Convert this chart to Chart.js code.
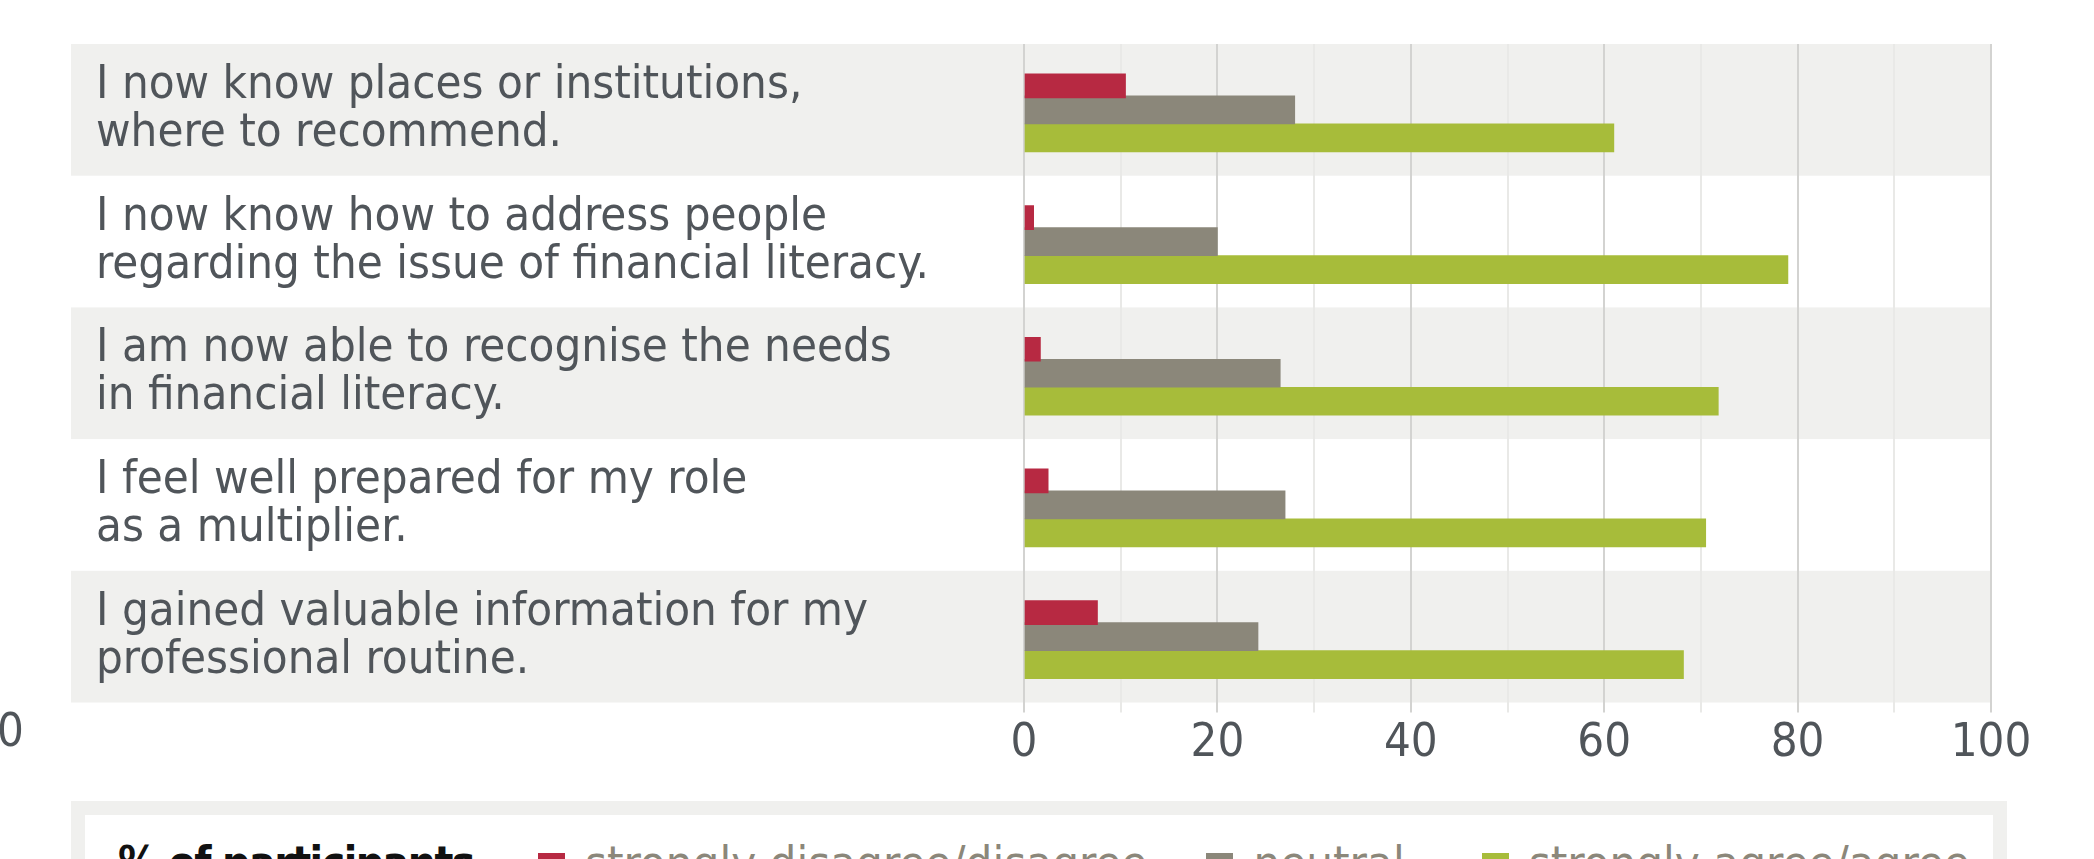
<!DOCTYPE html>
<html>
<head>
<meta charset="utf-8">
<script src="https://cdn.jsdelivr.net/npm/chart.js@4.4.1/dist/chart.umd.min.js"></script>
<style>
  html, body { margin: 0; padding: 0; background: #fff; overflow: hidden; }
  body { width: 2094px; height: 859px; position: relative; font-family: "Liberation Sans Narrow", "DejaVu Sans Condensed", sans-serif; }
  #wrap { position: absolute; left: 0; top: 0; width: 2094px; height: 780px; }
  #cut { position: absolute; left: -3px; top: 706px; font-size: 47px; line-height: 48px; color: #50555a; }
  #legend { position: absolute; left: 71px; top: 801px; width: 1875px; height: 80px; border: 14px solid #f0f0ee; background: #fff; display: flex; align-items: flex-start; padding-left: 33px; box-sizing: content-box; white-space: nowrap; overflow: hidden; }
  #legend .title { font-weight: bold; color: #111; font-size: 44px; letter-spacing: -1.5px; line-height: 48px; margin-top: 24px; margin-right: 64px; flex-shrink: 0; }
  #legend .item { display: flex; align-items: flex-start; margin-right: 59px; color: #8b877a; font-size: 47px; line-height: 48px; margin-top: 24px; flex-shrink: 0; }
  #legend .item:nth-child(3) { margin-right: 77px; }
  #legend .box { width: 27px; height: 27px; margin-top: 14px; margin-right: 20px; flex-shrink: 0; }
</style>
</head>
<body>
<div id="wrap"><canvas id="myChart"></canvas></div>
<div id="cut">0</div>
<div id="legend"></div>
<script>
const statements = [
    ["I now know places or institutions,", "where to recommend."],
    ["I now know how to address people", "regarding the issue of financial literacy."],
    ["I am now able to recognise the needs", "in financial literacy."],
    ["I feel well prepared for my role", "as a multiplier."],
    ["I gained valuable information for my", "professional routine."]
];
const disagreeValues = [10.5, 1, 1.7, 2.5, 7.6];
const neutralValues = [28, 20, 26.5, 27, 24.2];
const agreeValues = [61, 79, 71.8, 70.5, 68.2];
const seriesNames = ["strongly disagree/disagree", "neutral", "strongly agree/agree"];
const xTicks = [0, 20, 40, 60, 80, 100];
const legendTitle = "% of participants";

const textFont = '"Liberation Sans Narrow", "DejaVu Sans Condensed", sans-serif';

// grey bands behind every other statement
const bandPlugin = {
    id: "bands",
    beforeDraw(chart, args, opts) {
        const ctx = chart.ctx;
        const y = chart.scales.y;
        const step = y.getPixelForValue(1) - y.getPixelForValue(0);
        ctx.save();
        ctx.fillStyle = opts.color;
        for (let i = 0; i < statements.length; i += 2) {
            const c = y.getPixelForValue(i);
            ctx.fillRect(opts.left, c - step / 2, chart.chartArea.right - opts.left, step);
        }
        ctx.restore();
    }
};

const chart = new Chart("myChart", {
    type: "bar",
    data: {
        labels: statements,
        datasets: [{
            label: seriesNames[0],
            data: disagreeValues,
            backgroundColor: "#b72942",
            barThickness: 24
        }, {
            label: seriesNames[1],
            data: neutralValues,
            backgroundColor: "#8b877a",
            barThickness: 28
        }, {
            label: seriesNames[2],
            data: agreeValues,
            backgroundColor: "#a7bc3a",
            barThickness: 28
        }]
    },
    options: {
        indexAxis: "y",
        responsive: true,
        maintainAspectRatio: false,
        animation: false,
        layout: {padding: {left: 96, top: 44, right: 103, bottom: 0}},
        plugins: {
            legend: {display: false},
            tooltip: {enabled: false},
            bands: {color: "#f0f0ee", left: 71}
        },
        scales: {
            x: {
                min: 0,
                max: 100,
                border: {display: false},
                afterFit: (scale) => { scale.height = 77.5; },
                grid: {
                    lineWidth: 2,
                    tickLength: 10,
                    color: (c) => (c.tick && c.tick.value % 20 === 0) ? "#d3d3d1" : "#e9e9e7"
                },
                ticks: {
                    stepSize: 10,
                    autoSkip: false,
                    maxRotation: 0,
                    padding: 3,
                    color: "#50555a",
                    font: {family: textFont, size: 47},
                    callback: (v) => xTicks.includes(v) ? v : ""
                }
            },
            y: {
                border: {display: false},
                grid: {display: false},
                afterFit: (scale) => {
                    scale.width = 928;
                    scale.paddingTop = 0;
                    scale.paddingBottom = 0;
                },
                ticks: {
                    crossAlign: "far",
                    color: "#50555a",
                    font: {family: textFont, size: 47, lineHeight: 1.02}
                }
            }
        }
    },
    plugins: [bandPlugin]
});

// legend built from the chart's datasets
const legend = document.getElementById("legend");
const t = document.createElement("div");
t.className = "title";
t.textContent = legendTitle;
legend.appendChild(t);
chart.data.datasets.forEach(ds => {
    const item = document.createElement("div");
    item.className = "item";
    const box = document.createElement("span");
    box.className = "box";
    box.style.background = ds.backgroundColor;
    const txt = document.createElement("span");
    txt.textContent = ds.label;
    item.appendChild(box);
    item.appendChild(txt);
    legend.appendChild(item);
});
</script>
</body>
</html>
